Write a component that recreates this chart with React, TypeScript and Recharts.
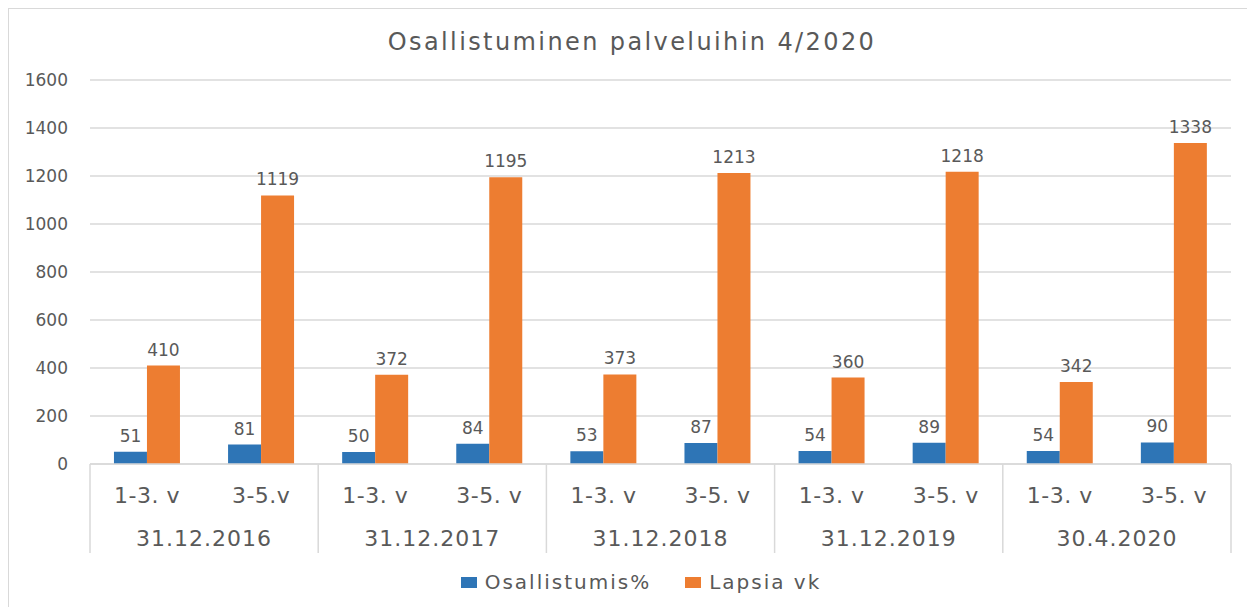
import React from "react";
import { BarChart, Bar, XAxis, YAxis, CartesianGrid, LabelList, Legend } from "recharts";

const title = "Osallistuminen palveluihin 4/2020";
const groups = ["31.12.2016", "31.12.2017", "31.12.2018", "31.12.2019", "30.4.2020"];
const subLabels = ["1-3. v", "3-5.v", "1-3. v", "3-5. v", "1-3. v", "3-5. v", "1-3. v", "3-5. v", "1-3. v", "3-5. v"];
const osallistumis = [51, 81, 50, 84, 53, 87, 54, 89, 54, 90];
const lapsia = [410, 1119, 372, 1195, 373, 1213, 360, 1218, 342, 1338];
const yTicks = [0, 200, 400, 600, 800, 1000, 1200, 1400, 1600];
const seriesNames = ["Osallistumis%", "Lapsia vk"];
const seriesColors = ["#2E75B6", "#ED7D31"];

const data = subLabels.map((s, i) => ({
  sub: s,
  key: `${i}`,
  group: groups[Math.floor(i / 2)],
  a: osallistumis[i],
  b: lapsia[i],
}));

const FONT = "'DejaVu Sans', sans-serif";
const TEXT = "#595959";
const GRID = "#d9d9d9";

const XTick = (props: any) => {
  const { x, y, payload, index, width } = props;
  const slot = width / data.length;
  const i = typeof index === "number" ? index : payload.index;
  const d = data[i];
  return (
    <g>
      <text x={x} y={y + 31} textAnchor="middle" dominantBaseline="central" fill={TEXT}
        style={{ fontFamily: FONT, fontSize: 22, letterSpacing: 0.5 }}>{d.sub}</text>
      {i % 2 === 0 && (
        <>
          <text x={x + slot / 2} y={y + 74} textAnchor="middle" dominantBaseline="central" fill={TEXT}
            style={{ fontFamily: FONT, fontSize: 22, letterSpacing: 1 }}>{d.group}</text>
          <line x1={x - slot / 2} x2={x - slot / 2} y1={y} y2={y + 89} stroke={GRID} strokeWidth={1.5} />
        </>
      )}
      {i === data.length - 1 && (
        <line x1={x + slot / 2} x2={x + slot / 2} y1={y} y2={y + 89} stroke={GRID} strokeWidth={1.5} />
      )}
    </g>
  );
};

const LegendContent = () => (
  <div style={{ display: "flex", justifyContent: "center", alignItems: "center", fontFamily: FONT, fontSize: 20, color: TEXT, letterSpacing: 2, paddingLeft: 18 }}>
    {seriesNames.map((n, i) => (
      <div key={n} style={{ display: "flex", alignItems: "center", marginRight: i === 0 ? 34 : 0 }}>
        <span style={{ display: "inline-block", width: 16, height: 11, background: seriesColors[i], marginRight: 8 }} />
        <span>{n}</span>
      </div>
    ))}
  </div>
);

export default function App() {
  return (
    <div style={{ position: "relative", width: 1246, height: 598, borderLeft: `1px solid ${GRID}`, borderTop: `1px solid ${GRID}`, background: "#fff" }}>
      <div style={{ position: "absolute", left: 0, top: 18, width: 1246, textAlign: "center", fontFamily: FONT, fontSize: 24, letterSpacing: 2.4, color: TEXT, lineHeight: "30px" }}>
        {title}
      </div>
      <BarChart width={1246} height={598} data={data} margin={{ top: 71, right: 24, bottom: 43, left: 0 }}
        barCategoryGap="21%" barGap={0}>
        <CartesianGrid vertical={false} stroke={GRID} strokeWidth={1.5} />
        <YAxis domain={[0, 1600]} ticks={yTicks} width={81} axisLine={false} tickLine={false} tickSize={0} tickMargin={22}
          tick={{ fill: TEXT, fontFamily: FONT, fontSize: 17 }} />
        <XAxis dataKey="key" height={100} axisLine={{ stroke: GRID, strokeWidth: 1.5 }} tickLine={false} tickSize={0} tickMargin={0}
          interval={0} tick={<XTick />} />
        <Legend layout="horizontal" verticalAlign="middle" align="center" content={<LegendContent />}
          wrapperStyle={{ top: 561, left: 0, width: 1246, height: 24 }} />
        <Bar dataKey="a" name={seriesNames[0]} fill={seriesColors[0]} isAnimationActive={false}>
          <LabelList dataKey="a" position="top" offset={10} fill={TEXT} style={{ fontFamily: FONT, fontSize: 17 }} />
        </Bar>
        <Bar dataKey="b" name={seriesNames[1]} fill={seriesColors[1]} isAnimationActive={false}>
          <LabelList dataKey="b" position="top" offset={10} fill={TEXT} style={{ fontFamily: FONT, fontSize: 17 }} />
        </Bar>
      </BarChart>
    </div>
  );
}
